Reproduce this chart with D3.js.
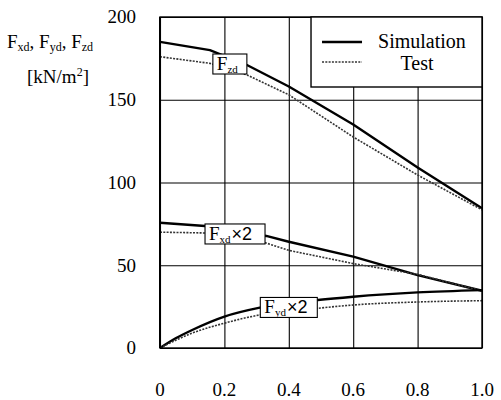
<!DOCTYPE html>
<html>
<head>
<meta charset="utf-8">
<script src="https://cdn.jsdelivr.net/npm/d3@7"></script>
<style>
  body { margin: 0; background: #fff; }
  #drawing_region text, #drawing_region tspan { font-family: 'Liberation Serif', serif !important; }
  #drawing_region tspan.sans { font-family: 'Liberation Sans', sans-serif !important; }
</style>
</head>
<body>
<svg id="drawing_region" width="501" height="400"></svg>
<script>
// ratio along x, values in kN/m2 (xd and yd already x2)
const zdX    = [0, 0.155, 0.27, 0.4, 0.6, 0.8, 1.0];
const zdSim  = [185, 180, 171, 158, 135, 109, 84.5];
const zdTest = [176, 172, 165, 153, 127.5, 104.5, 83.5];

const xdX    = [0, 0.14, 0.33, 0.4, 0.6, 0.8, 1.0];
const xdSim  = [75.7, 73.7, 67.7, 64.2, 55.2, 44, 34.6];
const xdTest = [70, 69.5, 63.4, 59, 51, 44.5, 34.5];

const ydX    = [0, 0.05, 0.1, 0.2, 0.31, 0.49, 0.6, 0.8, 1.0];
const ydSim  = [0, 6, 10.9, 19, 24.4, 29, 31, 33.6, 35];
const ydTest = [0, 4.8, 9, 15, 20, 24, 26, 27.8, 28.6];

const xTicks = [0, 0.2, 0.4, 0.6, 0.8, 1.0];
const xTickLabels = ['0', '0.2', '0.4', '0.6', '0.8', '1.0'];
const yTicks = [0, 50, 100, 150, 200];

// curve labels: name, subscript, suffix, anchor (data coords)
const labels = [
    {main: 'F', sub: 'zd', tail: '',   x: 0.217, y: 171.6, w: 34},
    {main: 'F', sub: 'xd', tail: '×2', x: 0.233, y: 68.9,  w: 60},
    {main: 'F', sub: 'yd', tail: '×2', x: 0.40,  y: 24.5,  w: 57}
];

const SERIF = "'Liberation Serif', serif";
const SANS = "'Liberation Sans', sans-serif";

const config = {
    width: 501,
    height: 400,
    margin: {top: 17, right: 19, bottom: 52, left: 160}
};

const svg = d3.select('#drawing_region');

const inner_width = config.width - config.margin.left - config.margin.right;
const inner_height = config.height - config.margin.top - config.margin.bottom;

const chart = svg.append('g')
    .attr('transform', `translate(${config.margin.left}, ${config.margin.top})`);

const xscale = d3.scaleLinear().domain([0, 1]).range([0, inner_width]);
const yscale = d3.scaleLinear().domain([0, 200]).range([inner_height, 0]);

// grid
chart.append('g')
    .call(d3.axisBottom(xscale).tickValues(xTicks).tickSize(-inner_height).tickFormat(''))
    .attr('transform', `translate(0, ${inner_height})`)
    .call(g => g.select('.domain').remove())
    .selectAll('line').attr('stroke', '#000').attr('stroke-width', 1.1);

chart.append('g')
    .call(d3.axisLeft(yscale).tickValues(yTicks).tickSize(-inner_width).tickFormat(''))
    .call(g => g.select('.domain').remove())
    .selectAll('line').attr('stroke', '#000').attr('stroke-width', 1.1);

// tick labels
const xlab = svg.append('g')
    .attr('transform', `translate(${config.margin.left}, ${config.margin.top + inner_height})`);
xlab.selectAll('text').data(xTicks).enter()
    .append('text')
    .attr('x', d => xscale(d))
    .attr('y', 48)
    .attr('text-anchor', 'middle')
    .style('font-family', SERIF, 'important')
    .style('font-size', '19px')
    .text((d, i) => xTickLabels[i]);

const ylab = svg.append('g')
    .attr('transform', `translate(${config.margin.left}, ${config.margin.top})`);
ylab.selectAll('text').data(yTicks).enter()
    .append('text')
    .attr('x', -24)
    .attr('y', d => yscale(d))
    .attr('dy', '0.33em')
    .attr('text-anchor', 'end')
    .style('font-family', SERIF, 'important')
    .style('font-size', '19px')
    .text(d => d);

// series (yd is a smooth rise from the origin, the others are near straight pieces)
const line = d3.line()
    .x(d => xscale(d[0]))
    .y(d => yscale(d[1]));

const series = [
    {xs: zdX, ys: zdSim,  test: false, smooth: false},
    {xs: zdX, ys: zdTest, test: true,  smooth: false},
    {xs: xdX, ys: xdSim,  test: false, smooth: false},
    {xs: xdX, ys: xdTest, test: true,  smooth: false},
    {xs: ydX, ys: ydSim,  test: false, smooth: true},
    {xs: ydX, ys: ydTest, test: true,  smooth: true}
];

chart.selectAll('path.series').data(series).enter()
    .append('path')
    .attr('class', 'series')
    .attr('fill', 'none')
    .attr('d', s => line.curve(s.smooth ? d3.curveMonotoneX : d3.curveLinear)(s.xs.map((x, i) => [x, s.ys[i]])))
    .attr('stroke', s => s.test ? '#333' : '#000')
    .attr('stroke-width', s => s.test ? 1.6 : 2.4)
    .attr('stroke-linejoin', 'round')
    .attr('stroke-dasharray', s => s.test ? '2,1.3' : null);

// frame
chart.append('rect')
    .attr('width', inner_width)
    .attr('height', inner_height)
    .attr('fill', 'none')
    .attr('stroke', '#000')
    .attr('stroke-width', 1.4);
chart.append('line')
    .attr('y2', inner_height)
    .attr('stroke', '#000')
    .attr('stroke-width', 2);

// curve labels
const lab = chart.selectAll('g.lab').data(labels).enter()
    .append('g')
    .attr('class', 'lab')
    .attr('transform', d => `translate(${xscale(d.x)}, ${yscale(d.y)})`);

lab.append('rect')
    .attr('x', d => -d.w / 2)
    .attr('y', -10)
    .attr('width', d => d.w)
    .attr('height', 20)
    .attr('fill', '#fff')
    .attr('stroke', '#000')
    .attr('stroke-width', 1.1);

const lt = lab.append('text')
    .attr('x', d => -d.w / 2 + 4)
    .attr('y', 6)
    .style('font-family', SERIF, 'important')
    .style('font-size', '19px');
lt.append('tspan').text(d => d.main);
lt.append('tspan').style('font-size', '11px').attr('dy', 3).text(d => d.sub);
lt.append('tspan').attr('class', 'sans').attr('dy', -3).attr('dx', 1)
    .style('font-family', SANS, 'important')
    .style('font-size', '18px')
    .text(d => d.tail);

// legend
const legend = chart.append('g')
    .attr('transform', `translate(${xscale(0.469)}, 0)`);
legend.append('rect')
    .attr('width', inner_width - xscale(0.469))
    .attr('height', 70)
    .attr('fill', '#fff')
    .attr('stroke', '#000')
    .attr('stroke-width', 1.4);
legend.append('line')
    .attr('x1', 11).attr('x2', 51).attr('y1', 25).attr('y2', 25)
    .attr('stroke', '#000').attr('stroke-width', 2.4);
legend.append('line')
    .attr('x1', 11).attr('x2', 51).attr('y1', 45).attr('y2', 45)
    .attr('stroke', '#333').attr('stroke-width', 1.6).attr('stroke-dasharray', '2,1.3');
legend.append('text').attr('x', 67).attr('y', 31)
    .style('font-family', SERIF, 'important').style('font-size', '20px').text('Simulation');
legend.append('text').attr('x', 106).attr('y', 53).attr('text-anchor', 'middle')
    .style('font-family', SERIF, 'important').style('font-size', '20px').text('Test');

// y title
const title = svg.append('text')
    .attr('x', 7)
    .attr('y', 48)
    .style('font-family', SERIF, 'important')
    .style('font-size', '19px');
[['xd', ', '], ['yd', ', '], ['zd', '']].forEach(p => {
    title.append('tspan').text('F');
    title.append('tspan').style('font-size', '12px').attr('dy', 3).text(p[0]);
    title.append('tspan').attr('dy', -3).text(p[1]);
});
const unit = svg.append('text')
    .attr('x', 58)
    .attr('y', 83)
    .attr('text-anchor', 'middle')
    .style('font-family', SERIF, 'important')
    .style('font-size', '19px');
unit.append('tspan').text('[kN/m');
unit.append('tspan').style('font-size', '12px').attr('dy', -7).text('2');
unit.append('tspan').attr('dy', 7).text(']');
</script>
</body>
</html>
